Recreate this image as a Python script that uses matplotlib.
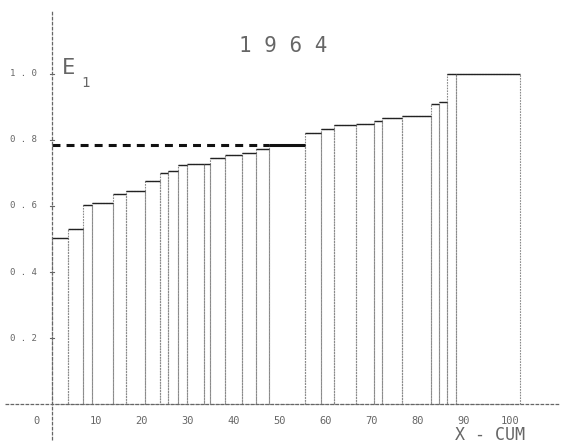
import numpy as np
import matplotlib
matplotlib.use("Agg")
import matplotlib.pyplot as plt

# cumulative x positions of the step edges (X-CUM) and the step heights (E1)
edges = [0, 3.5, 6.7, 8.7, 13.3, 16.1, 20.2, 23.5, 25.2, 27.4, 29.4, 33.0, 34.4,
         37.6, 41.3, 44.4, 47.2, 55.0, 58.5, 61.3, 66.1, 70.0, 71.7, 76.1, 82.4,
         84.1, 85.9, 87.8, 101.7]
heights = [0.504, 0.531, 0.604, 0.610, 0.636, 0.645, 0.677, 0.700, 0.706, 0.724,
           0.727, 0.728, 0.745, 0.753, 0.762, 0.772, 0.785, 0.821, 0.833, 0.845,
           0.848, 0.856, 0.866, 0.873, 0.910, 0.916, 1.000, 1.000]
ref_level = 0.785
ref_end = 47.2
ref_bar_end = 55.0

year = "1 9 6 4"
xtick_vals = [10, 20, 30, 40, 50, 60, 70, 80, 90, 100]
ytick_vals = [0.2, 0.4, 0.6, 0.8, 1.0]
ytick_labels = ["0 . 2", "0 . 4", "0 . 6", "0 . 8", "1 . 0"]

font = "DejaVu Sans Mono"
tcol = "#666666"

fig = plt.figure(figsize=(5.63, 4.46), dpi=100)
ax = fig.add_axes([0, 0, 1, 1])
ax.axis("off")
ax.set_xlim(-11.3, 111.1)
ax.set_ylim(-0.127, 1.224)

left = np.array(edges[:-1])
right = np.array(edges[1:])
ax.bar(left, heights, width=right - left, align="edge", fill=False,
       edgecolor="#8a8a8a", linewidth=0.8, linestyle=(0, (1.5, 1)))
ax.hlines(heights, left, right, colors="#222222", linewidth=1.0)

# reference line
ax.plot([0, ref_end], [ref_level, ref_level], color="#111111", linewidth=2.2,
        dashes=(2.6, 2.0), solid_capstyle="butt", dash_capstyle="butt")
ax.plot([ref_end, ref_bar_end], [ref_level, ref_level], color="#111111",
        linewidth=2.2, solid_capstyle="butt")

# axes
ax.plot([-10.2, 110.4], [0, 0], color="#666666", linewidth=0.9, linestyle=(0, (3, 1)))
ax.plot([0, 0], [-0.109, 1.194], color="#666666", linewidth=0.9, linestyle=(0, (3, 1)))
for v in ytick_vals:
    ax.plot([-0.5, 0.5], [v, v], color="#666666", linewidth=0.8)

for v, lab in zip(ytick_vals, ytick_labels):
    ax.text(-6.3, v, lab, ha="center", va="center", fontsize=6.5,
            family=font, color=tcol)
for v in xtick_vals:
    ax.text(v - 0.5, -0.05, str(v), ha="center", va="center", fontsize=7.5,
            family=font, color=tcol)
ax.text(-3.3, -0.05, "0", ha="center", va="center", fontsize=7.5,
        family=font, color=tcol)

ax.text(95.2, -0.093, "X - CUM", ha="center", va="center", fontsize=12,
        family=font, color=tcol)
ax.text(50.2, 1.085, year, ha="center", va="center", fontsize=15,
        family=font, color=tcol)
ax.text(3.5, 1.018, "E", ha="center", va="center", fontsize=16,
        family=font, color=tcol)
ax.text(7.2, 0.973, "1", ha="center", va="center", fontsize=10,
        family=font, color=tcol)

fig.savefig("out.png", dpi=100)
